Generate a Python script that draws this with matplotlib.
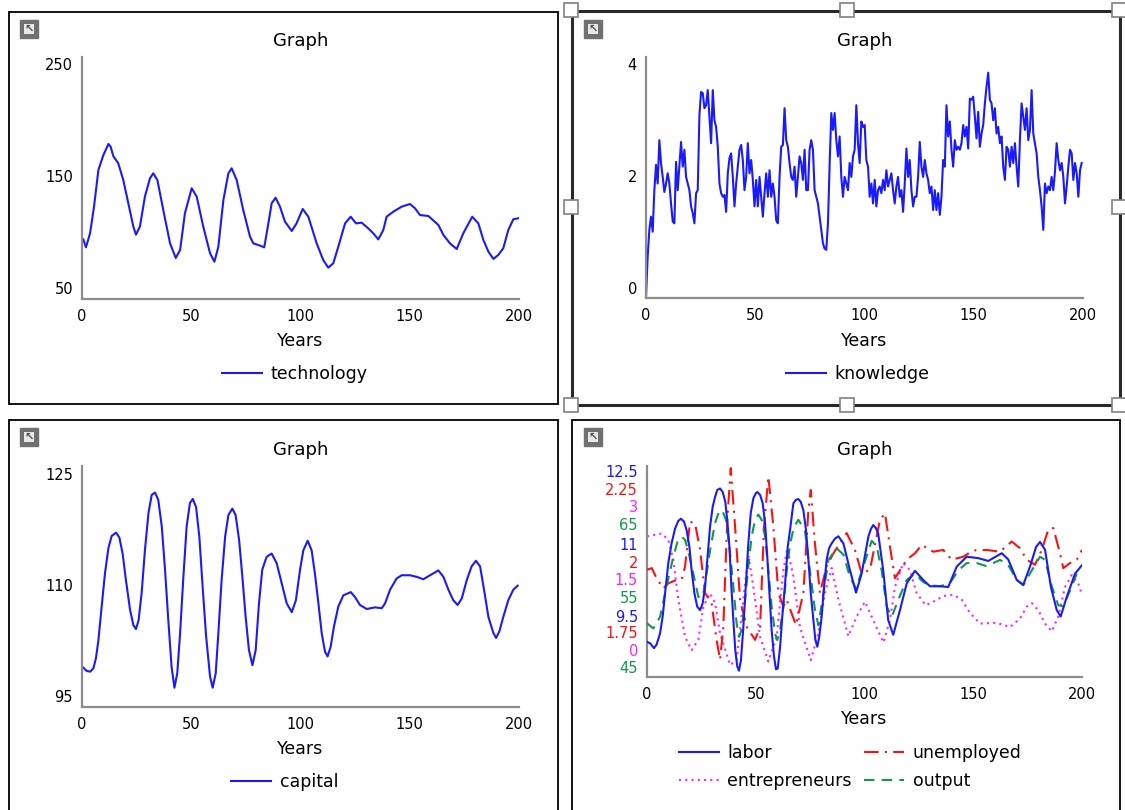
import numpy as np
import matplotlib
matplotlib.use("Agg")
import matplotlib.pyplot as plt
from matplotlib import transforms
from matplotlib.patches import Rectangle

# ---- data ----
tech_years = [0.6, 1.8, 3.7, 5.5, 7.5, 9.8, 12.1, 13.1, 14.3, 16.6, 18.9, 21.2, 23.5, 24.7, 26.5,
              28.8, 31.1, 32.6, 34.5, 37.2, 40.3, 42.9, 44.9, 47.1, 50.2, 52.5, 55.5, 58.6, 60.6,
              62.4, 64.7, 67.0, 68.5, 70.8, 73.8, 76.9, 78.4, 81.5, 83.4, 85.3, 86.8, 88.6, 90.6,
              92.9, 96.0, 98.2, 101.0, 103.6, 107.4, 110.4, 112.7, 115.0, 117.3, 120.4, 123.0,
              125.4, 128.0, 131.0, 133.3, 135.6, 137.9, 139.4, 142.5, 146.3, 150.1, 152.4, 154.7,
              158.5, 163.1, 165.4, 168.4, 171.5, 174.5, 178.6, 181.4, 183.7, 186.0, 188.3, 190.5,
              192.8, 195.1, 197.4, 199.7]
technology = [99.3, 92.7, 104.3, 126.3, 156.6, 169.0, 178.1, 175.9, 168.2, 162.1, 148.3, 129.1,
              109.8, 103.2, 109.8, 134.6, 149.7, 153.9, 148.3, 123.5, 96.0, 83.9, 90.5, 120.8,
              141.5, 134.6, 109.8, 87.8, 80.8, 93.2, 131.8, 153.9, 158.0, 148.3, 123.5, 101.5,
              96.0, 94.1, 92.7, 112.5, 129.1, 133.7, 126.3, 113.9, 106.2, 112.5, 124.4, 118.0,
              96.0, 82.2, 75.9, 79.5, 93.2, 112.5, 118.0, 112.5, 113.1, 108.4, 104.3, 99.3, 107.0,
              118.0, 122.2, 126.3, 128.5, 125.0, 119.4, 118.6, 111.2, 102.9, 96.0, 91.3, 104.3,
              118.0, 112.5, 98.8, 89.1, 83.1, 86.4, 91.9, 107.0, 115.9, 116.7]

knowledge = [0.00, 0.69, 1.13, 1.35, 1.10, 1.79, 2.21, 1.90, 2.62, 2.24, 2.01, 1.76, 1.90, 2.07, 1.90,
             1.57, 1.27, 1.24, 2.26, 1.79, 2.18, 2.59, 2.18, 2.46, 2.01, 1.90, 1.79, 1.52, 1.41, 1.24,
             1.74, 1.79, 3.04, 3.42, 3.40, 3.15, 3.20, 3.45, 3.01, 2.57, 3.45, 2.95, 2.84, 2.51, 1.90,
             1.74, 1.68, 1.71, 1.43, 2.07, 2.32, 2.40, 2.01, 1.52, 1.90, 2.18, 2.46, 2.54, 2.29, 1.79,
             2.01, 2.57, 2.07, 2.29, 1.96, 1.52, 1.96, 1.52, 2.01, 1.68, 1.35, 1.74, 2.07, 1.68, 2.12,
             1.68, 1.90, 1.68, 1.29, 1.24, 2.01, 2.51, 2.54, 3.15, 2.62, 2.51, 2.24, 2.01, 1.96, 2.18,
             1.68, 2.01, 2.35, 2.24, 1.96, 2.46, 1.79, 1.79, 2.46, 2.62, 2.46, 1.79, 1.68, 1.57, 1.35,
             1.13, 0.91, 0.82, 0.80, 1.24, 2.21, 3.07, 2.79, 3.07, 2.62, 2.35, 2.68, 2.01, 1.68, 2.01,
             1.90, 1.79, 2.24, 2.01, 2.35, 2.46, 3.20, 2.57, 2.24, 2.93, 2.84, 2.87, 2.29, 2.18, 1.68,
             1.90, 1.57, 1.96, 1.52, 1.79, 1.85, 1.74, 1.96, 1.79, 2.12, 1.85, 1.96, 2.07, 1.79, 1.57,
             1.85, 2.01, 1.68, 1.79, 1.43, 1.90, 2.48, 2.01, 2.29, 1.79, 1.52, 1.68, 1.68, 2.01, 2.59,
             2.18, 2.01, 2.29, 2.07, 1.96, 1.74, 1.85, 1.46, 1.79, 1.46, 1.74, 1.38, 1.68, 2.29, 2.18,
             3.20, 2.68, 2.93, 2.46, 2.18, 2.62, 2.46, 2.51, 2.46, 2.57, 2.87, 2.68, 2.84, 2.48, 3.31,
             3.29, 3.34, 3.01, 2.65, 3.09, 2.51, 2.73, 2.87, 3.23, 3.51, 3.74, 3.29, 3.23, 2.95, 3.15,
             2.73, 2.84, 2.57, 2.68, 2.18, 1.96, 2.51, 2.46, 2.18, 2.51, 2.24, 2.57, 2.18, 1.85, 2.62,
             3.23, 3.01, 2.79, 3.15, 2.62, 2.79, 3.45, 2.73, 2.57, 2.40, 2.01, 1.79, 1.52, 1.13, 1.90,
             1.74, 1.85, 1.79, 2.01, 1.79, 2.10, 2.57, 2.29, 2.12, 2.24, 2.01, 1.57, 1.85, 2.18, 2.46,
             2.40, 1.96, 2.24, 2.07, 1.68, 2.12, 2.24]
knowledge_years = np.linspace(0, 199.4, len(knowledge))

cap_years = [0.6, 2.1, 3.7, 5.2, 6.4, 7.5, 9.0, 10.5, 12.1, 13.6, 15.6, 17.1, 18.6, 20.1, 22.0,
             23.5, 24.7, 25.9, 27.3, 28.8, 30.4, 31.9, 33.4, 34.9, 36.5, 38.0, 39.5, 41.0, 42.3,
             43.6, 44.9, 46.4, 47.9, 49.4, 50.7, 52.2, 53.7, 55.2, 56.8, 58.6, 59.8, 61.2, 62.4,
             63.9, 65.5, 67.0, 68.8, 70.3, 71.9, 73.4, 74.9, 76.4, 78.0, 79.5, 81.0, 82.5, 84.5,
             86.8, 89.1, 91.4, 93.7, 96.0, 97.9, 99.8, 101.3, 103.3, 105.1, 106.6, 108.2, 109.7,
             111.2, 112.4, 113.8, 115.3, 117.3, 119.6, 123.0, 124.9, 127.2, 130.3, 134.1, 137.2,
             138.7, 141.0, 144.0, 146.3, 150.1, 153.2, 156.2, 159.3, 163.1, 165.4, 167.7, 169.9,
             171.9, 173.8, 176.1, 178.3, 180.3, 182.2, 184.0, 186.0, 188.3, 189.5, 191.0, 192.8,
             195.1, 197.4, 199.4]
capital = [99.9, 99.5, 99.4, 99.8, 101.1, 103.3, 107.5, 111.6, 114.8, 116.3, 116.7, 116.1, 114.1,
           110.8, 107.1, 105.2, 104.7, 105.8, 109.2, 114.5, 119.1, 121.4, 121.7, 120.8, 117.5,
           112.1, 105.8, 100.0, 97.4, 99.2, 104.2, 111.2, 117.5, 120.4, 120.9, 119.9, 116.2, 110.0,
           103.8, 98.8, 97.4, 99.2, 104.2, 110.8, 116.2, 118.9, 119.7, 118.9, 115.8, 111.2, 106.2,
           102.1, 100.2, 102.1, 107.9, 112.1, 113.7, 114.1, 112.9, 110.4, 107.9, 106.8, 108.3,
           112.1, 114.5, 115.7, 114.5, 111.6, 107.9, 104.2, 101.9, 101.3, 102.5, 105.0, 107.5,
           108.9, 109.3, 108.7, 107.7, 107.2, 107.4, 107.3, 107.9, 109.6, 111.0, 111.4, 111.4,
           111.2, 110.9, 111.4, 112.0, 111.2, 109.6, 108.3, 107.7, 108.5, 110.8, 112.5, 113.2,
           112.5, 109.6, 106.2, 104.2, 103.6, 104.4, 106.2, 108.3, 109.6, 110.1]

labor_years = [0, 1.4, 3.2, 4.4, 6.0, 7.2, 8.3, 9.8, 11.3, 12.9, 14.4, 15.6, 17.0, 18.2, 19.5, 20.5,
               21.8, 23.1, 24.4, 25.6, 26.7, 27.7, 29.0, 30.2, 31.3, 32.3, 33.6, 34.8, 36.0, 36.9,
               37.9, 38.8, 39.7, 40.6, 41.5, 42.3, 43.2, 44.3, 45.5, 46.6, 47.7, 48.9, 50.0, 50.7,
               52.0, 53.2, 54.3, 55.2, 56.3, 57.3, 58.4, 59.3, 60.1, 61.2, 62.2, 63.5, 64.7, 65.8,
               67.3, 68.5, 69.6, 70.7, 71.9, 73.1, 74.2, 75.3, 76.5, 77.4, 78.3, 79.2, 80.3, 81.4,
               82.6, 83.7, 84.9, 86.5, 88.0, 90.3, 93.3, 96.1, 98.7, 101.8, 102.9, 104.0, 105.2,
               106.3, 108.6, 110.9, 113.2, 116.3, 119.4, 123.2, 127.0, 130.1, 134.7, 138.5, 142.4,
               147.0, 152.3, 156.9, 163.1, 166.1, 170.0, 173.0, 176.1, 178.9, 180.7, 183.0, 185.7,
               188.4, 190.2, 193.0, 196.8, 200]
labor = [10.00, 9.98, 9.91, 9.96, 10.12, 10.36, 10.69, 11.12, 11.40, 11.61, 11.72, 11.75, 11.71,
         11.59, 11.35, 11.02, 10.69, 10.50, 10.45, 10.55, 10.78, 11.16, 11.64, 11.92, 12.06, 12.16,
         12.18, 12.13, 11.99, 11.73, 11.35, 10.78, 10.31, 9.88, 9.65, 9.59, 9.74, 10.21, 10.83,
         11.40, 11.83, 12.04, 12.11, 12.13, 12.09, 11.97, 11.68, 11.26, 10.69, 10.17, 9.79, 9.61,
         9.62, 9.93, 10.36, 10.83, 11.35, 11.60, 11.97, 12.02, 12.03, 11.99, 11.87, 11.59, 11.17,
         10.69, 10.31, 10.03, 9.93, 10.07, 10.36, 10.78, 11.17, 11.33, 11.40, 11.47, 11.50, 11.40,
         11.02, 10.70, 10.97, 11.50, 11.60, 11.66, 11.62, 11.54, 11.02, 10.31, 10.10, 10.45, 10.83,
         11.01, 10.88, 10.79, 10.79, 10.78, 11.07, 11.21, 11.19, 11.15, 11.26, 11.17, 10.88, 10.81,
         11.07, 11.35, 11.42, 11.31, 10.78, 10.45, 10.36, 10.64, 10.97, 11.09]

unemp_years = [0, 2.2, 4.4, 7.5, 9.8, 13.6, 16.0, 17.5, 19.8, 22.1, 24.4, 26.7, 29.7, 32.0, 33.6,
               35.1, 36.9, 38.5, 40.5, 42.8, 45.8, 49.7, 52.0, 53.8, 55.8, 58.1, 60.4, 62.7, 64.2,
               68.5, 71.9, 74.2, 75.3, 77.2, 79.5, 82.6, 85.7, 91.8, 95.6, 98.7, 102.5, 107.1, 109.4,
               111.7, 114.0, 119.4, 123.2, 126.3, 131.6, 136.2, 140.1, 145.4, 150.0, 156.2, 162.3,
               167.7, 171.5, 174.6, 178.4, 181.5, 184.5, 186.8, 189.9, 191.4, 194.5, 197.6, 200]
unemployed = [2.004, 2.008, 1.984, 1.960, 1.972, 1.980, 1.982, 2.012, 2.118, 2.114, 2.051, 1.949,
              1.925, 1.838, 1.791, 1.869, 2.122, 2.245, 2.106, 1.933, 1.869, 1.838, 1.869, 2.106,
              2.225, 2.106, 1.949, 1.917, 1.933, 1.873, 1.949, 2.146, 2.193, 2.067, 1.949, 2.012,
              2.043, 2.091, 2.051, 1.996, 2.004, 2.122, 2.138, 2.059, 1.984, 2.028, 2.043, 2.063,
              2.047, 2.051, 2.028, 2.035, 2.050, 2.051, 2.047, 2.071, 2.055, 2.028, 2.016, 2.051,
              2.099, 2.103, 2.043, 2.008, 2.020, 2.028, 2.051]

entre_years = [0, 6.8, 9.8, 12.1, 14.4, 17.5, 20.5, 23.6, 25.9, 29.0, 31.3, 33.6, 38.2, 41.2, 44.3,
               46.6, 48.9, 52.0, 55.8, 59.6, 62.7, 64.5, 67.3, 70.3, 75.3, 78.8, 81.8, 84.9, 88.0,
               92.6, 96.4, 100.2, 104.0, 108.7, 111.7, 114.0, 117.8, 120.9, 124.0, 128.2, 131.6,
               136.2, 140.8, 144.7, 148.5, 153.1, 160.8, 166.9, 171.5, 174.6, 176.9, 179.9, 183.0,
               186.1, 189.1, 192.2, 195.3, 198.3, 200]
entrepreneurs = [2.00, 2.04, 1.95, 1.67, 1.10, 0.57, 0.38, 0.53, 1.00, 1.19, 1.05, 0.62, 0.17, 0.24,
                 1.10, 1.73, 1.28, 0.57, 0.22, 0.57, 1.52, 1.83, 1.43, 0.71, 0.24, 0.62, 1.19, 1.55,
                 1.10, 0.58, 0.86, 1.07, 0.81, 0.49, 0.81, 1.28, 1.62, 1.52, 1.19, 1.02, 1.07, 1.15,
                 1.17, 1.10, 0.91, 0.76, 0.77, 0.71, 0.83, 1.00, 1.05, 0.95, 0.76, 0.65, 0.86, 1.28,
                 1.45, 1.33, 1.17]

output_years = [0, 2.9, 6.0, 9.0, 12.1, 14.0, 15.9, 17.5, 19.0, 21.3, 23.6, 24.8, 25.9, 27.4, 29.0,
                31.3, 33.3, 34.8, 36.3, 38.2, 39.7, 41.2, 42.3, 43.5, 45.1, 46.6, 48.1, 49.7, 51.2,
                52.7, 54.3, 55.8, 57.3, 58.9, 59.9, 61.2, 62.7, 64.2, 65.7, 67.5, 69.6, 72.6, 74.9,
                77.2, 78.8, 81.1, 83.4, 87.2, 90.3, 93.3, 96.1, 99.5, 103.3, 105.6, 107.9, 110.2,
                112.5, 115.5, 119.4, 123.2, 127.0, 130.1, 134.7, 139.3, 143.1, 147.0, 151.6, 156.2,
                162.3, 166.1, 170.0, 173.0, 176.9, 180.7, 183.0, 186.1, 189.1, 191.4, 194.5, 197.6,
                200]
output = [50.1, 49.6, 50.7, 53.6, 56.4, 57.8, 58.3, 58.0, 56.9, 54.8, 52.6, 52.5, 52.9, 54.8, 57.0,
          59.6, 60.8, 60.7, 59.9, 56.7, 53.6, 50.1, 48.8, 49.5, 52.3, 55.5, 58.3, 59.9, 60.4, 59.9,
          58.3, 55.1, 51.7, 49.1, 48.5, 49.5, 51.7, 55.0, 57.5, 59.2, 59.9, 58.9, 55.1, 51.4, 49.9,
          52.9, 56.1, 57.2, 56.6, 54.5, 53.4, 55.5, 57.9, 57.4, 55.1, 51.7, 50.7, 52.3, 54.2, 54.8,
          54.0, 53.7, 53.6, 53.9, 55.1, 55.8, 55.8, 55.5, 56.1, 55.6, 54.2, 53.7, 55.1, 56.4, 56.1,
          53.6, 51.8, 51.7, 53.2, 54.8, 55.2]

x_ticks = [0, 50, 100, 150, 200]

BLUE = "#1a1aff"
RED = "#ff1010"
MAGENTA = "#ff22ff"
GREEN = "#119944"
SPINE = "#8c8c8c"

W, H = 1125, 810
fig = plt.figure(figsize=(W / 100, H / 100), dpi=100)


def fx(px):
    return px / W


def fy(py):
    return 1 - py / H


def make_axes(left, top, right, bottom):
    ax = fig.add_axes([fx(left), fy(bottom), (right - left) / W, (bottom - top) / H])
    for s in ("top", "right"):
        ax.spines[s].set_visible(False)
    for s in ("left", "bottom"):
        ax.spines[s].set_color(SPINE)
        ax.spines[s].set_linewidth(1.6)
    ax.set_xlim(0, 200)
    ax.set_xticks(x_ticks)
    ax.tick_params(length=0, labelsize=10.5, pad=7)
    ax.set_yticks([])
    ax.set_title("Graph", fontsize=13, pad=8)
    return ax


def y_labels(ax, ticks, shift=9):
    # end labels sit a little inside the axis, as in the original tool
    base = ax.get_yaxis_transform()
    for i, v in enumerate(ticks):
        dy = -shift if i == 0 else (shift if i == len(ticks) - 1 else 0)
        tr = base + transforms.ScaledTranslation(-9 / 100, dy / 100, fig.dpi_scale_trans)
        ax.text(0, v, str(v), transform=tr, ha="right", va="center", fontsize=10.5)


def panel_box(left, top, right, bottom, lw=1.3, color="black"):
    fig.add_artist(Rectangle((fx(left), fy(bottom)), (right - left) / W, (bottom - top) / H,
                             transform=fig.transFigure, fill=False, lw=lw, edgecolor=color))


def icon(x, y):
    fig.add_artist(Rectangle((fx(x), fy(y + 18)), 18 / W, 18 / H, transform=fig.transFigure,
                             facecolor="#707070", edgecolor="#707070"))
    fig.add_artist(Rectangle((fx(x + 4), fy(y + 14)), 10 / W, 10 / H, transform=fig.transFigure,
                             facecolor="#e8e8e8", edgecolor="none"))
    fig.text(fx(x + 9), fy(y + 9), "\u2196", ha="center", va="center", fontsize=8,
             color="#505050", fontweight="bold")


def handle(cx, cy):
    fig.add_artist(Rectangle((fx(cx - 7), fy(cy + 7)), 14 / W, 14 / H, transform=fig.transFigure,
                             facecolor="white", edgecolor="#808080", lw=1.2, zorder=10))


def legend(handles, labels, cx, cy, ncol=1):
    fig.legend(handles, labels, loc="center", bbox_to_anchor=(fx(cx), fy(cy)),
               bbox_transform=fig.transFigure, frameon=False, fontsize=12.5, ncol=ncol,
               handlelength=2.3, handletextpad=0.5, columnspacing=0.7, labelspacing=0.55)


# frames
panel_box(9, 12, 558, 404)
panel_box(572, 11, 1120, 405, lw=2.2, color="#2a2a2a")
panel_box(9, 420, 558, 812)
panel_box(572, 420, 1120, 812)
for (x, y) in [(20, 20), (584, 20), (20, 428), (584, 428)]:
    icon(x, y)

# panel 1: technology
ax1 = make_axes(82, 57, 519, 299)
ax1.set_ylim(50, 250)
l1, = ax1.plot(tech_years, technology, color=BLUE, lw=1.5)
y_labels(ax1, [250, 150, 50])
fig.text(fx(300), fy(341), "Years", ha="center", va="center", fontsize=12.5)
legend([l1], ["technology"], 295, 374)

# panel 2: knowledge
ax2 = make_axes(646, 57, 1083, 298)
ax2.set_ylim(0, 4)
l2, = ax2.plot(knowledge_years, knowledge, color=BLUE, lw=1.5)
y_labels(ax2, [4, 2, 0])
fig.text(fx(864), fy(341), "Years", ha="center", va="center", fontsize=12.5)
legend([l2], ["knowledge"], 858, 374)

# panel 3: capital
ax3 = make_axes(82, 466, 519, 707)
ax3.set_ylim(95, 125)
l3, = ax3.plot(cap_years, capital, color=BLUE, lw=1.5)
y_labels(ax3, [125, 110, 95])
fig.text(fx(300), fy(749), "Years", ha="center", va="center", fontsize=12.5)
legend([l3], ["capital"], 285, 782)

# panel 4: four series, each on its own scale
ax4 = make_axes(647, 466, 1082, 677)
ax4.set_ylim(0, 3)
le, = ax4.plot(entre_years, entrepreneurs, color=MAGENTA, lw=1.5, linestyle=(0, (1, 2)))
tw_u = ax4.twinx()
tw_o = ax4.twinx()
tw_l = ax4.twinx()
for tw in (tw_u, tw_o, tw_l):
    tw.set_axis_off()
    tw.set_xlim(0, 200)
tw_u.set_ylim(1.75, 2.25)
tw_o.set_ylim(45, 65)
tw_l.set_ylim(9.5, 12.5)
lu, = tw_u.plot(unemp_years, unemployed, color=RED, lw=1.5, linestyle=(0, (7, 3, 1, 3)))
lo, = tw_o.plot(output_years, output, color=GREEN, lw=1.5, linestyle=(0, (5, 3.5)))
ll, = tw_l.plot(labor_years, labor, color=BLUE, lw=1.5)

stack_labels = ["12.5", "2.25", "3", "65", "11", "2", "1.5", "55", "9.5", "1.75", "0", "45"]
stack_colors = [BLUE, RED, MAGENTA, GREEN] * 3
stack_pos = [0.967, 0.882, 0.801, 0.716, 0.621, 0.540, 0.455, 0.374, 0.284, 0.204, 0.123, 0.038]
for txt, c, p in zip(stack_labels, stack_colors, stack_pos):
    ax4.text(-9 / 435, p, txt, transform=ax4.transAxes, ha="right", va="center",
             fontsize=10.5, color=c)
fig.text(fx(864), fy(719), "Years", ha="center", va="center", fontsize=12.5)
legend([ll, le, lu, lo], ["labor", "entrepreneurs", "unemployed", "output"], 850, 767, ncol=2)

# selection handles on the second panel
for (x, y) in [(571, 10), (847, 10), (1119, 10), (571, 207), (1119, 207),
               (571, 405), (847, 405), (1119, 405)]:
    handle(x, y)

fig.savefig("out.png", dpi=100)
